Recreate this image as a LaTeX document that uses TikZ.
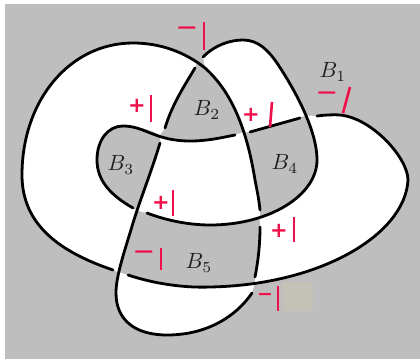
\documentclass[tikz,border=0pt]{standalone}
\usepackage{fontspec}
\newfontfamily\signfont{DejaVu Sans}
\definecolor{bgGray}{HTML}{BEBEBE}
\definecolor{markRed}{HTML}{F0104A}
\definecolor{patchTan}{HTML}{C4C1B6}
\tikzset{
  knot/.style={draw=black,line width=2.8pt,line cap=round},
  region/.style={fill=white},
  label/.style={scale=2.2,inner sep=0pt,text=black!88},
  plussign/.style={text=markRed,inner sep=0pt,font=\signfont\bfseries\fontsize{21}{21}\selectfont},
  minussign/.style={text=markRed,inner sep=0pt,font=\signfont\fontsize{27}{27}\selectfont},
  smallminus/.style={text=markRed,inner sep=0pt,font=\signfont\bfseries\fontsize{19}{19}\selectfont},
  bar/.style={draw=markRed,line width=2.6pt}
}
\begin{document}
\begin{tikzpicture}[x=1pt,y=-1pt]
\useasboundingbox (0,0) rectangle (420,359);
\fill[white] (0,0) rectangle (420,359);
\fill[bgGray] (5,4) rectangle (420,359);
\fill[patchTan] (283,282) rectangle (313,311);
% white regions
\path[region] (113,270) .. controls (60,252) and (22,225) .. (22,175)
  .. controls (22,100) and (70,43) .. (133,43)
  .. controls (156,43) and (178,50) .. (197,62) -- (195,68)
  .. controls (183,88) and (172,105) .. (165,128) -- (160,135)
  .. controls (147,128) and (135,126) .. (123,126)
  .. controls (108,126) and (97,140) .. (97,160)
  .. controls (97,180) and (110,195) .. (133,208) -- (137,210.6) -- (133,223)
  -- (121.5,261) -- (118,272) -- cycle;
\path[region] (203,57) .. controls (215,45) and (230,40) .. (243,40)
  .. controls (258,40) and (268,50) .. (277,63)
  .. controls (286.9,77.85) and (298,96.6) .. (306,115.5) -- (250,132) -- (243.5,132.1)
  .. controls (235,105.1) and (222.55,83.6) .. (205,68) -- cycle;
\path[region] (160,135) .. controls (170,139) and (178,141) .. (190,141)
  .. controls (207,141) and (220,138) .. (235,135) -- (243.5,132.1)
  .. controls (248.1,146.7) and (252.2,162.5) .. (255,180)
  .. controls (257,190) and (259,200) .. (260,210) -- (259.6,217.6)
  .. controls (244.9,222.3) and (228,225) .. (210,225)
  .. controls (188,225) and (165,220) .. (147,213) -- (137,210.6)
  .. controls (143,190) and (153,167) .. (160,143) -- cycle;
\path[region] (317,116) .. controls (325,115) and (332,114.5) .. (340,115)
  .. controls (372,118) and (408,158) .. (408,180)
  .. controls (405.42,227.3) and (342.2,270.9) .. (254.6,283.5) -- (255,277)
  .. controls (258,262) and (260,245) .. (260,227) -- (259.6,217.6)
  .. controls (294,206.6) and (317,184.5) .. (317,160)
  .. controls (317,146.5) and (312.5,131) .. (306,115.5) -- cycle;
\path[region] (118,272) -- (128,275) .. controls (155,284) and (185,288) .. (210,287)
  .. controls (225.4,286.7) and (240.3,285.5) .. (254.6,283.5) -- (252,293)
  .. controls (235,318) and (205,335) .. (167,335)
  .. controls (135,335) and (116,320) .. (116,293) -- cycle;
% knot strands
\draw[knot] (113,270) .. controls (60,252) and (22,225) .. (22,175)
  .. controls (22,100) and (70,43) .. (133,43)
  .. controls (160,43) and (185,52) .. (205,68)
  .. controls (232,92) and (247,130) .. (255,180)
  .. controls (257,190) and (259,200) .. (260,210);
\draw[knot] (260,227) .. controls (260,245) and (258,262) .. (255,277);
\draw[knot] (252,293) .. controls (235,318) and (205,335) .. (167,335)
  .. controls (135,335) and (116,320) .. (116,293)
  .. controls (116,275) and (125,250) .. (133,223)
  .. controls (140,200) and (152,170) .. (160,143);
\draw[knot] (165,128) .. controls (172,105) and (183,88) .. (195,68);
\draw[knot] (203,57) .. controls (215,45) and (230,40) .. (243,40)
  .. controls (258,40) and (268,50) .. (277,63)
  .. controls (295,90) and (317,130) .. (317,160)
  .. controls (317,195) and (270,225) .. (210,225)
  .. controls (188,225) and (165,220) .. (147,213);
\draw[knot] (133,208) .. controls (110,195) and (97,180) .. (97,160)
  .. controls (97,140) and (108,126) .. (123,126)
  .. controls (145,126) and (155,141) .. (190,141)
  .. controls (207,141) and (220,138) .. (235,135);
\draw[knot] (250,132) -- (300,118);
\draw[knot] (128,275) .. controls (155,284) and (185,288) .. (210,287)
  .. controls (320,285) and (405,235) .. (408,180)
  .. controls (408,158) and (372,118) .. (340,115)
  .. controls (332,114.5) and (325,115) .. (317,116);
% labels
\node[label] (b1) at (333,72) {$B_1$};
\node[label] (b2) at (207,110) {$B_2$};
\node[label] (b3) at (121,165) {$B_3$};
\node[label] (b4) at (285,164) {$B_4$};
\node[label] (b5) at (199,263) {$B_5$};
% signs
\node[minussign] (s1) at (187,32) {−};
\draw[bar] (204,22) -- (204,50);
\node[plussign] (s2) at (137,106) {+};
\draw[bar] (151,95) -- (151,122);
\node[plussign] (s3) at (251,115) {+};
\draw[bar] (272,102) -- (270,127);
\node[minussign] (s4) at (327,97) {−};
\draw[bar] (350,87) -- (343,113);
\node[plussign] (s5) at (161,203) {+};
\draw[bar] (173,190) -- (173,216);
\node[minussign] (s6) at (144,256) {−};
\draw[bar] (161,248) -- (161,270);
\node[plussign] (s7) at (279,231) {+};
\draw[bar] (294,217) -- (294,242);
\node[smallminus] (s8) at (265,297) {−};
\draw[bar] (278,286) -- (278,311);
\end{tikzpicture}
\end{document}
